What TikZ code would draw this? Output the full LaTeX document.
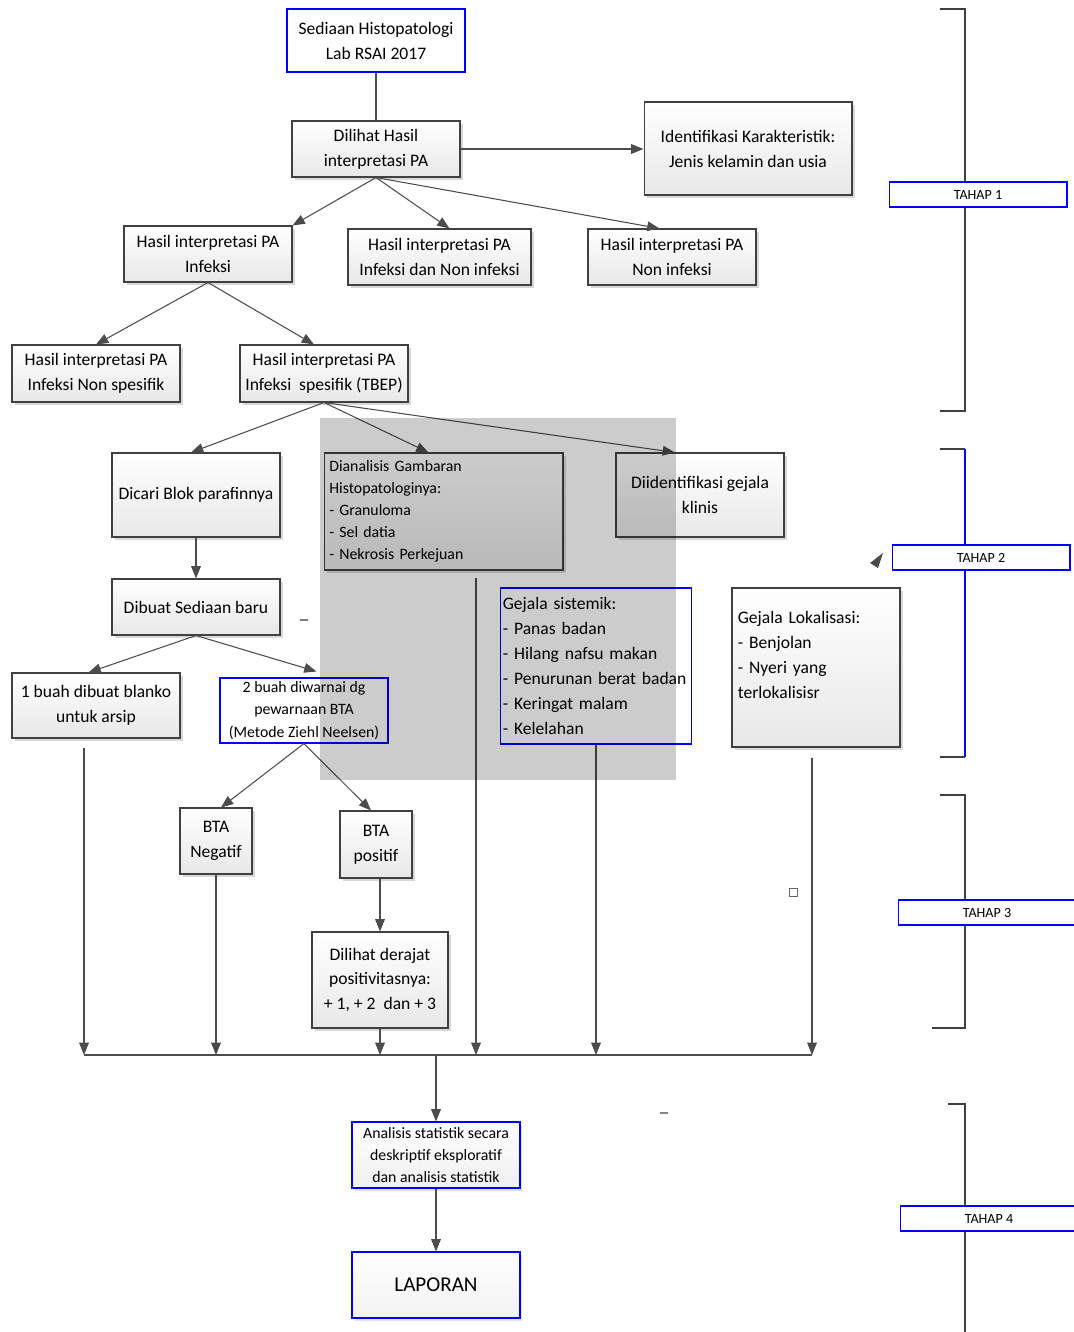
\documentclass[tikz,border=0pt]{standalone}
\usepackage{fontspec}
\setmainfont{Carlito}
\usetikzlibrary{arrows.meta, shadows}

\begin{document}
\begin{tikzpicture}[
    x = 0.02cm, y = -0.02cm,
    font          = \fontsize{10}{14.2}\selectfont,
    box/.style    = {draw=black!75, line width=0.6pt, top color=white,
                     bottom color=black!9, align=center, inner sep=2pt,
                     minimum width=3.36cm, minimum height=1.12cm,
                     drop shadow={shadow xshift=0.06cm, shadow yshift=-0.06cm,
                                  fill=black!30, opacity=0.5}},
    bbox/.style   = {draw=blue, line width=0.6pt, fill=white, align=center,
                     inner sep=2pt, minimum width=3.36cm},
    small/.style  = {font=\fontsize{9}{12.6}\selectfont},
    lbox/.style   = {align=left, inner sep=3pt},
    arr/.style    = {-{Triangle[length=7pt, width=5.5pt]}, draw=black!70,
                     line width=0.6pt},
    line/.style   = {draw=black!70, line width=0.6pt},
    brk/.style    = {draw=black!75, line width=0.6pt},
    tahap/.style  = {draw=blue, line width=0.6pt, fill=white,
                     font=\fontsize{8}{9}\selectfont, minimum width=3.56cm,
                     minimum height=0.5cm, inner sep=1pt},
  ]
  \useasboundingbox (0,0) rectangle (1073,1332);

  % tahap 1
  \node[bbox, minimum width=3.56cm, minimum height=1.26cm] (sediaan) at (376,40.5)
    {Sediaan Histopatologi\\Lab RSAI 2017};
  \node[box] (dilihat) at (376,149) {Dilihat Hasil\\interpretasi PA};
  \node[box, minimum width=4.16cm, minimum height=1.86cm] (karakter) at (748,148.5)
    {Identifikasi Karakteristik:\\Jenis kelamin dan usia};
  \node[box] (infeksi) at (208,254) {Hasil interpretasi PA\\Infeksi};
  \node[box, minimum width=3.66cm] (campur) at (439.5,257)
    {Hasil interpretasi PA\\Infeksi dan Non infeksi};
  \node[box] (noninf) at (672,257) {Hasil interpretasi PA\\Non infeksi};
  \node[box, minimum height=1.14cm] (nonspes) at (96,373.5)
    {Hasil interpretasi PA\\Infeksi Non spesifik};
  \node[box, minimum height=1.14cm] (spes) at (324,373.5)
    {Hasil interpretasi PA\\Infeksi\ \ spesifik (TBEP)};

  % tahap 2
  \node[box, minimum height=1.68cm] (blok) at (196,495) {Dicari Blok parafinnya};
  \node[box, small, lbox, text width=130pt, minimum height=2.34cm] (gambaran) at (443.5,511.5)
    {Dianalisis Gambaran\\Histopatologinya:\\- Granuloma\\- Sel datia\\- Nekrosis Perkejuan};
  \node[box, minimum height=1.68cm] (klinis) at (700,495) {Diidentifikasi gejala\\klinis};
  \node[box] (baru) at (196,607) {Dibuat Sediaan baru};
  \node[box, minimum height=1.3cm] (blanko) at (96,705.5) {1 buah dibuat blanko\\untuk arsip};
  \node[bbox, small, inner ysep=0.5pt, minimum height=1.3cm] (pewarnaan) at (304,710.5)
    {2 buah diwarnai dg\\pewarnaan BTA\\(Metode Ziehl Neelsen)};
  \node[bbox, fill=none, lbox, inner xsep=1.4pt, text width=106pt, minimum height=3.12cm]
    (sistemik) at (596,666)
    {Gejala sistemik:\\- Panas badan\\- Hilang nafsu makan\\- Penurunan berat badan\\- Keringat malam\\- Kelelahan};
  \node[box, lbox, text width=89pt, minimum height=3.18cm] (lokal) at (816,667.5)
    {Gejala Lokalisasi:\\- Benjolan\\- Nyeri yang\\terlokalisisr\\[-4pt]\strut};

  % tahap 3
  \node[box, minimum width=1.44cm, minimum height=1.32cm] (negatif) at (216,841) {BTA\\Negatif};
  \node[box, minimum width=1.44cm, minimum height=1.34cm] (positif) at (376,844.5) {BTA\\positif};
  \node[box, minimum width=2.72cm, minimum height=1.92cm] (derajat) at (380,980)
    {Dilihat derajat\\positivitasnya:\\+ 1, + 2\ \ dan + 3};

  % tahap 4
  \node[bbox, small, inner ysep=0.5pt, top color=white, bottom color=black!6,
        minimum height=1.32cm,
        drop shadow={shadow xshift=0.05cm, shadow yshift=-0.05cm, fill=black!25, opacity=0.5}]
    (analisis) at (436,1155)
    {Analisis statistik secara\\deskriptif eksploratif\\dan analisis statistik};
  \node[bbox, font=\fontsize{12}{14}\selectfont, top color=white, bottom color=black!5,
        minimum height=1.32cm,
        drop shadow={shadow xshift=0.05cm, shadow yshift=-0.05cm, fill=black!20, opacity=0.5}]
    (laporan) at (436,1285) {LAPORAN};

  % connectors
  \draw[line] (sediaan) -- (dilihat);
  \draw[arr] (dilihat.east) -- (dilihat.east -| karakter.west);
  \draw[arr] (dilihat.south) -- (infeksi.north east);
  \draw[arr] (dilihat.south) -- ([xshift=0.2cm]campur.north);
  \draw[arr] (dilihat.south) -- ([xshift=-0.25cm]noninf.north);
  \draw[arr] (infeksi.south) -- (nonspes.north);
  \draw[arr] (infeksi.south) -- ([xshift=-0.2cm]spes.north);
  \draw[arr] (spes.south) -- ([xshift=-0.1cm]blok.north);
  \draw[arr] (spes.south) -- ([xshift=-0.3cm]gambaran.north);
  \draw[arr] (spes.south) -- ([xshift=-0.5cm]klinis.north);
  \draw[arr] (blok) -- (baru);
  \draw[arr] (baru.south) -- ([xshift=-0.15cm]blanko.north);
  \draw[arr] (baru.south) -- ([xshift=0.25cm, yshift=0.12cm]pewarnaan.north);
  \draw[arr] (pewarnaan.south) -- ([xshift=0.1cm]negatif.north);
  \draw[arr] (pewarnaan.south) -- ([xshift=-0.1cm]positif.north);
  \draw[arr] (positif.south -| derajat.north) -- (derajat.north);

  % collecting line
  \coordinate (busL) at (84,1055);
  \coordinate (busR) at (812,1055);
  \coordinate (dropA) at (84,748);
  \coordinate (dropB) at (476,578);
  \coordinate (dropC) at (812,758);
  \draw[line] (busL) -- (busR);
  \draw[arr] (dropA) -- (busL);
  \draw[arr] (negatif.south) -- (negatif.south |- busL);
  \draw[arr] (derajat.south) -- (derajat.south |- busL);
  \draw[arr] (dropB) -- (dropB |- busL);
  \draw[arr] (sistemik.south) -- (sistemik.south |- busL);
  \draw[arr] (dropC) -- (busR);
  \draw[arr] (busL -| analisis.north) -- (analisis.north);
  \draw[arr] (analisis) -- (laporan);

  % gray panel
  \fill[black, fill opacity=0.2] (320,418) rectangle (676,780);

  % brackets
  \draw[brk] (940,9) -- (965,9) -- (965,411) -- (940,411);
  \draw[brk] (940,449) -- (965,449);
  \draw[blue, line width=0.6pt] (965,449) -- (965,757);
  \draw[brk] (965,757) -- (940,757);
  \draw[brk] (940,795) -- (965,795) -- (965,1028) -- (932,1028);
  \draw[brk] (948,1104) -- (965,1104) -- (965,1340);
  \node[tahap] (tahap1) at (978,194.5) {TAHAP 1};
  \node[tahap] (tahap2) at (981,557.5) {TAHAP 2};
  \node[tahap] (tahap3) at (987,912.5) {TAHAP 3};
  \node[tahap] (tahap4) at (989,1218.5) {TAHAP 4};

  % loose marks
  \fill[black!70] (883,553) -- (870,563) -- (878,568) -- cycle;
  \draw[black!60, line width=0.5pt] (789,888) rectangle (797,896);
  \draw[black!50, line width=0.6pt] (300,620) -- (308,620);
  \draw[black!50, line width=0.6pt] (660,1113) -- (668,1113);
\end{tikzpicture}
\end{document}
